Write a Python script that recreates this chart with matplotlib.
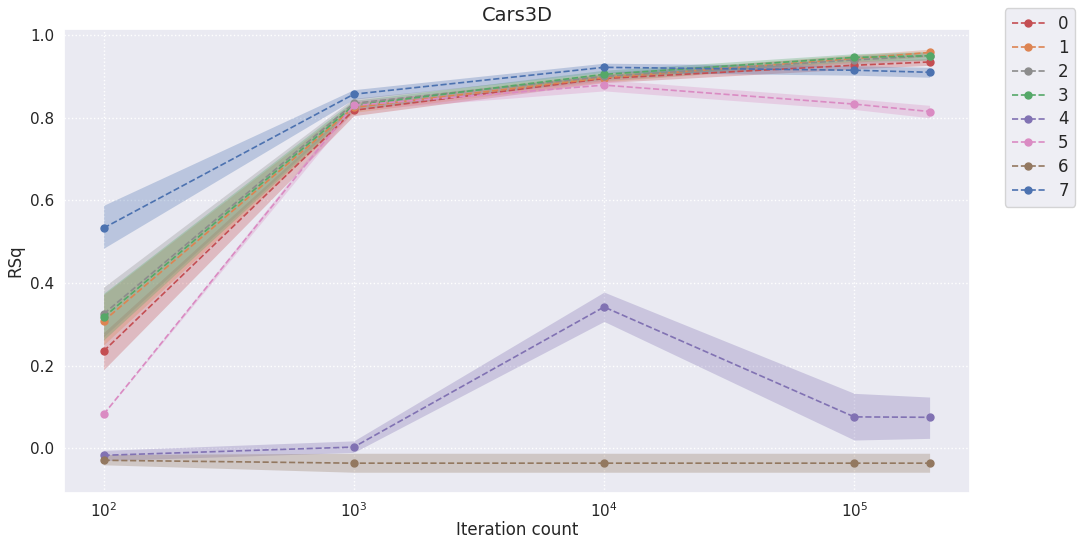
import matplotlib
matplotlib.use("Agg")
import matplotlib.pyplot as plt
import seaborn as sns

sns.set_theme(style="darkgrid")

iterations = [100, 1000, 10000, 100000, 200000]
labels = ["0", "1", "2", "3", "4", "5", "6", "7"]

means = [
    [0.235, 0.818, 0.895, 0.927, 0.935],
    [0.308, 0.825, 0.897, 0.943, 0.958],
    [0.325, 0.835, 0.900, 0.940, 0.950],
    [0.317, 0.830, 0.905, 0.946, 0.950],
    [-0.017, 0.003, 0.342, 0.076, 0.075],
    [0.082, 0.830, 0.879, 0.833, 0.815],
    [-0.029, -0.036, -0.036, -0.036, -0.036],
    [0.533, 0.857, 0.922, 0.915, 0.910],
]
lower = [
    [0.190, 0.805, 0.885, 0.918, 0.927],
    [0.250, 0.813, 0.887, 0.934, 0.948],
    [0.270, 0.823, 0.890, 0.930, 0.940],
    [0.262, 0.818, 0.895, 0.937, 0.940],
    [-0.030, -0.010, 0.307, 0.020, 0.024],
    [0.082, 0.818, 0.865, 0.820, 0.800],
    [-0.040, -0.058, -0.058, -0.058, -0.058],
    [0.484, 0.845, 0.910, 0.903, 0.898],
]
upper = [
    [0.280, 0.830, 0.905, 0.937, 0.943],
    [0.372, 0.837, 0.907, 0.952, 0.966],
    [0.390, 0.847, 0.910, 0.950, 0.960],
    [0.375, 0.842, 0.915, 0.955, 0.960],
    [-0.005, 0.018, 0.378, 0.133, 0.124],
    [0.082, 0.842, 0.892, 0.846, 0.830],
    [-0.015, -0.012, -0.012, -0.012, -0.012],
    [0.588, 0.868, 0.932, 0.926, 0.922],
]

colors = ["#c44e52", "#dd8452", "#8c8c8c", "#55a868",
          "#8172b3", "#da8bc3", "#937860", "#4c72b0"]

fig, ax = plt.subplots(figsize=(10.77, 5.43), dpi=100)
fig.subplots_adjust(left=0.059, right=0.901, top=0.946, bottom=0.093)

for i, lab in enumerate(labels):
    ax.fill_between(iterations, lower[i], upper[i], color=colors[i],
                    alpha=0.3, linewidth=0)
    ax.plot(iterations, means[i], linestyle="--", marker="o", markersize=5,
            linewidth=1.2, color=colors[i], label=lab)

ax.set_xscale("log")
ax.set_xlim(10 ** 1.84, 10 ** 5.464)
ax.set_ylim(-0.107, 1.014)
ax.grid(True, which="major", linestyle=":", color="white", linewidth=1)
ax.tick_params(axis="both", which="both", length=0, pad=6.5)
ax.set_xlabel("Iteration count", labelpad=0.5)
ax.set_ylabel("RSq")
ax.set_title("Cars3D", fontsize=14)
ax.legend(loc="upper left", bbox_to_anchor=(1.038, 1.045), borderaxespad=0,
          fontsize=12, labelspacing=0.35)

fig.savefig("out.png", dpi=100)
